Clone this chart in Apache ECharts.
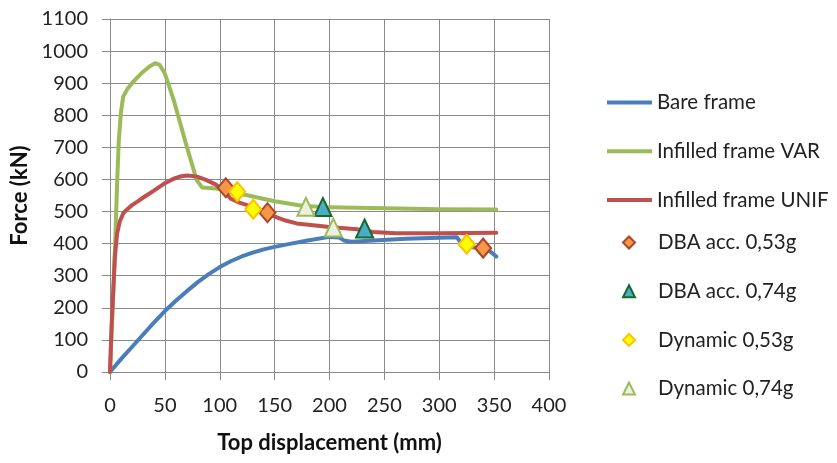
<!DOCTYPE html>
<html>
<head>
<meta charset="utf-8">
<script src="https://cdn.jsdelivr.net/npm/echarts@6/dist/echarts.min.js"></script>
<style>html,body{margin:0;padding:0;background:#fff}#c{width:837px;height:463px}</style>
</head>
<body>
<div id="c"></div>
<script>
// ---- data (displacement mm, force kN) ----
const bareX = [0, 10, 20, 30, 40, 50, 60, 70, 80, 90, 100, 110, 120, 130, 140, 150, 165, 180, 200, 209, 213, 220, 240, 270, 300, 316, 322, 330, 343, 352];
const bareY = [0, 40, 78, 116, 154, 190, 222, 252, 280, 305, 327, 345, 360, 372, 382, 390, 400, 410, 421, 419, 410, 406, 410, 415, 418, 420, 393, 389, 385, 360];

const varX = [0, 3, 5, 6.5, 8, 10, 12, 16, 20, 25, 30, 36, 41, 45, 50, 58, 70, 79, 84, 97, 110, 125, 150, 175, 200, 250, 300, 352];
const varY = [0, 250, 430, 590, 720, 810, 858, 883, 900, 918, 935, 952, 962, 958, 930, 848, 702, 598, 575, 572, 561, 551, 532, 518, 513, 510, 507, 506];

const unifX = [0, 1.5, 4.5, 6.5, 9, 12, 15, 20, 25, 30, 35, 40, 45, 50, 55, 60, 65, 70, 75, 80, 88, 97, 105, 110, 118, 125, 135, 149, 160, 170, 185, 200, 225, 240, 260, 300, 352];
const unifY = [0, 150, 360, 432, 470, 494, 505, 520, 531, 543, 554, 565, 577, 588, 597, 605, 610, 612, 611, 608, 598, 583, 560, 540, 528, 520, 508, 486, 472, 463, 457, 452, 445, 436, 432, 432, 434];

const dba053X = [105.5, 143.5, 340];
const dba053Y = [574, 496, 386];
const dba074X = [194, 232];
const dba074Y = [514, 447];
const dyn053X = [116, 130.5, 325];
const dyn053Y = [562, 507, 398];
const dyn074X = [178.5, 203.5];
const dyn074Y = [515, 450];

const xTicks = [0, 50, 100, 150, 200, 250, 300, 350, 400];
const yTicks = [0, 100, 200, 300, 400, 500, 600, 700, 800, 900, 1000, 1100];

const lineNames = ['Bare frame', 'Infilled frame VAR', 'Infilled frame UNIF'];
const markerNames = ['DBA acc. 0,53g', 'DBA acc. 0,74g', 'Dynamic 0,53g', 'Dynamic 0,74g'];

const zip = (a, b) => a.map((v, i) => [v, b[i]]);

const FONT = 'Lato';
const chart = echarts.init(document.getElementById('c'), null, {renderer: 'canvas'});

function lineSeries(name, xs, ys, color, z) {
  return {
    name, type: 'line', data: zip(xs, ys), showSymbol: false, symbol: 'none',
    smooth: false,
    z, lineStyle: {color, width: 4, join: 'round', cap: 'round'}, itemStyle: {color},
    emphasis: {disabled: true}, animation: false
  };
}
function scatterSeries(name, xs, ys, symbol, size, fill, border) {
  return {
    name, type: 'scatter', data: zip(xs, ys), symbol, symbolSize: size, z: 10,
    itemStyle: {color: fill, borderColor: border, borderWidth: 2, opacity: 1},
    emphasis: {disabled: true}, animation: false
  };
}

const LINE_ICON = 'path://M0,0H45V4H0Z';
const legendText = {fontFamily: FONT, fontSize: 20.5, color: '#222', lineHeight: 19};

const option = {
  backgroundColor: '#fff',
  animation: false,
  grid: {left: 110, right: 288, top: 19, bottom: 91, containLabel: false},
  xAxis: {
    type: 'value', min: xTicks[0], max: xTicks[xTicks.length - 1], interval: 50,
    name: 'Top displacement (mm)', nameLocation: 'middle', nameGap: 60,
    nameTextStyle: {fontFamily: FONT, fontWeight: 'bold', fontSize: 22, color: '#111'},
    axisLine: {show: true, lineStyle: {color: '#8a8a8a', width: 1}},
    axisTick: {show: true, inside: false, length: 8, lineStyle: {color: '#8a8a8a'}},
    axisLabel: {fontFamily: FONT, fontSize: 20, color: '#222', margin: 24},
    splitLine: {show: true, lineStyle: {color: '#8a8a8a', width: 1}}
  },
  yAxis: {
    type: 'value', min: yTicks[0], max: yTicks[yTicks.length - 1], interval: 100,
    name: 'Force (kN)', nameLocation: 'middle', nameGap: 78, nameRotate: 90,
    nameTextStyle: {fontFamily: FONT, fontWeight: 'bold', fontSize: 22, color: '#111'},
    axisLine: {show: true, lineStyle: {color: '#8a8a8a', width: 1}},
    axisTick: {show: true, inside: false, length: 8, lineStyle: {color: '#8a8a8a'}},
    axisLabel: {fontFamily: FONT, fontSize: 20, color: '#222', margin: 22, formatter: v => String(v)},
    splitLine: {show: true, lineStyle: {color: '#8a8a8a', width: 1}}
  },
  legend: [
    {
      orient: 'vertical', left: 607, top: 92, padding: 0, itemWidth: 45, itemHeight: 12, itemGap: 27.7,
      textStyle: legendText, selectedMode: false,
      data: lineNames.map(n => ({name: n, icon: LINE_ICON}))
    },
    {
      orient: 'vertical', left: 622, top: 232, padding: 0, itemWidth: 12, itemHeight: 12, itemGap: 27.7,
      textStyle: Object.assign({}, legendText, {padding: [0, 0, 0, 18]}), selectedMode: false,
      data: markerNames.map((n, i) => ({name: n, icon: i % 2 === 0 ? 'diamond' : 'triangle'}))
    }
  ],
  series: [
    lineSeries(lineNames[0], bareX, bareY, '#4A7EBB', 2),
    lineSeries(lineNames[1], varX, varY, '#9BBB59', 3),
    lineSeries(lineNames[2], unifX, unifY, '#C0504D', 4),
    scatterSeries(markerNames[0], dba053X, dba053Y, 'diamond', [16, 19], '#F79646', '#A8482A'),
    scatterSeries(markerNames[1], dba074X, dba074Y, 'triangle', [17, 18], '#4BACC6', '#17692A'),
    scatterSeries(markerNames[2], dyn053X, dyn053Y, 'diamond', [16, 19], '#FFFF00', '#FFC000'),
    scatterSeries(markerNames[3], dyn074X, dyn074Y, 'triangle', [17, 18], '#EBF1DE', '#9BBB59')
  ]
};
chart.setOption(option);
</script>
</body>
</html>
